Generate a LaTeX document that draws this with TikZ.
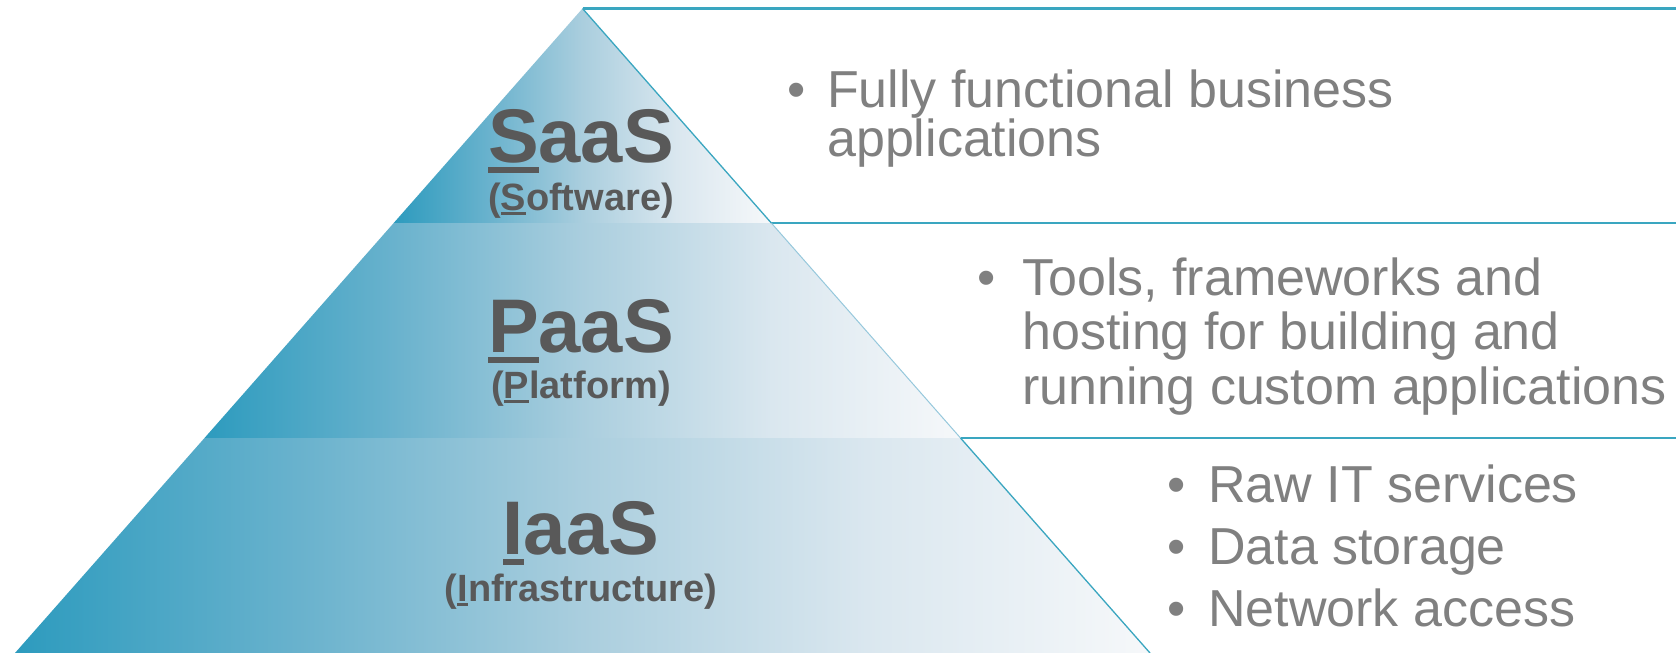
\documentclass[tikz,border=0pt]{standalone}
\usepackage{fontspec}
\setmainfont{Liberation Sans}
\definecolor{tealA}{RGB}{45,155,190}
\definecolor{tealB}{RGB}{105,178,205}
\definecolor{tealC}{RGB}{170,206,222}
\definecolor{tealD}{RGB}{218,231,239}
\definecolor{tealE}{RGB}{246,248,250}
\definecolor{rulec}{RGB}{58,166,192}
\definecolor{rulelight}{RGB}{150,200,220}
\definecolor{labelc}{RGB}{89,89,89}
\definecolor{textc}{RGB}{128,128,128}
\pgfdeclarehorizontalshading{tiershade}{100bp}{color(0bp)=(tealA); color(25bp)=(tealA); color(37.5bp)=(tealB); color(50bp)=(tealC); color(62.5bp)=(tealD); color(75bp)=(tealE); color(100bp)=(tealE)}
\newcommand{\ulbar}[1]{\setbox0\hbox{#1}\rlap{\rule[-0.14em]{\wd0}{0.075em}}\box0}
\begin{document}
\begin{tikzpicture}[x=1pt,y=-1pt,
  tier/.style={shading=tiershade},
  hline/.style={draw=rulec,line width=2.5pt},
  edgeline/.style={draw=rulec,line width=1.3pt},
  biglabel/.style={font=\fontsize{76}{80}\selectfont\bfseries, text=labelc, anchor=base, inner sep=0pt},
  sublabel/.style={font=\fontsize{38}{42}\selectfont\bfseries, text=labelc, anchor=base, inner sep=0pt},
  desc/.style={font=\fontsize{52}{56}\selectfont, text=textc, anchor=base west, inner sep=0pt}]
\useasboundingbox[fill=white] (0,0) rectangle (1676,653);
% pyramid corners
\coordinate (A) at (582.5,8.5);
\coordinate (L1) at (393.7,223); \coordinate (R1) at (771.3,223);
\coordinate (L2) at (204.5,438); \coordinate (R2) at (960.5,438);
\coordinate (L3) at (15,653);    \coordinate (R3) at (1150,653);
\coordinate (E0) at (1676,8.5);
\coordinate (E1) at (1676,223);
\coordinate (E2) at (1676,438);
% tiers
\shade[tier] (A) -- (R1) -- (L1) -- cycle;
\shade[tier] (L1) -- (R1) -- (R2) -- (L2) -- cycle;
\shade[tier] (L2) -- (R2) -- (R3) -- (L3) -- cycle;
% lines
\draw[hline,line width=3pt] (A) -- (E0);
\draw[hline] (R1) -- (E1);
\draw[hline] (R2) -- (E2);
\draw[edgeline] (A) -- (R1);
\draw[edgeline,draw=rulelight,line width=1pt] (R1) -- (R2);
\draw[edgeline] (R2) -- (R3);
% labels
\node[biglabel] (saas) at (581,162) {\ulbar{S}aaS};
\node[sublabel] (saasfull) at (581,210) {(\ulbar{S}oftware)};
\node[biglabel] (paas) at (581,352) {\ulbar{P}aaS};
\node[sublabel] (paasfull) at (581,398) {(\ulbar{P}latform)};
\node[biglabel] (iaas) at (581,554) {\ulbar{I}aaS};
\node[sublabel] (iaasfull) at (581,601) {(\ulbar{I}nfrastructure)};
% descriptions
\node[desc] (dsaas) at (827,107) {\vtop{\baselineskip=49pt
  \hbox{\llap{•\hspace{22pt}}Fully functional business}
  \hbox{applications}}};
\node[desc] (dpaas) at (1022,295) {\vtop{\baselineskip=54.5pt
  \hbox{\llap{•\hspace{27pt}}Tools, frameworks and}
  \hbox{hosting for building and}
  \hbox{running custom applications}}};
\node[desc] (diaas) at (1208,502.5) {\vtop{\baselineskip=62pt
  \hbox{\llap{•\hspace{23pt}}Raw IT services}
  \hbox{\llap{•\hspace{23pt}}Data storage}
  \hbox{\llap{•\hspace{23pt}}Network access}}};
\end{tikzpicture}
\end{document}
